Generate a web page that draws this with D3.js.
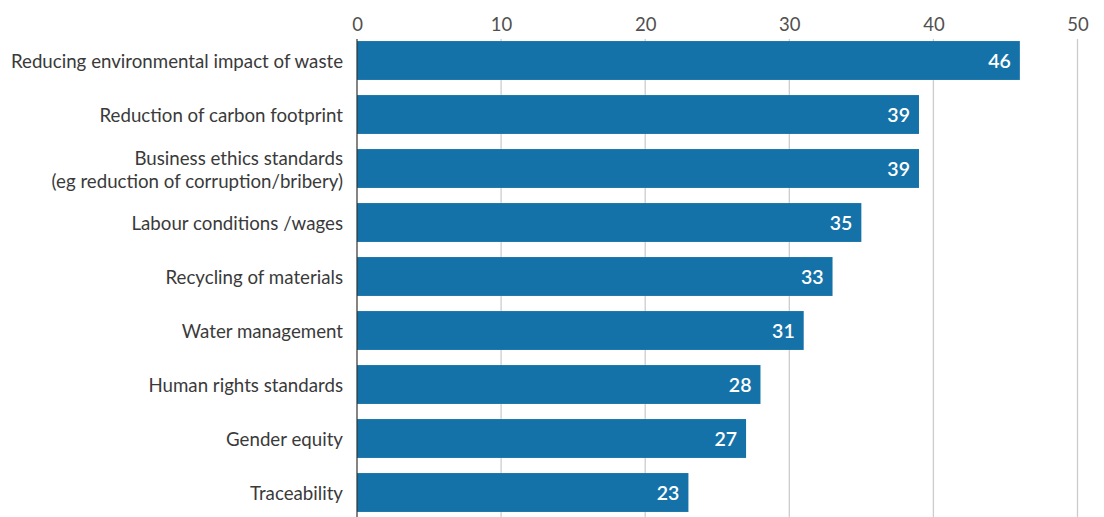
<!DOCTYPE html>
<html>
<head>
<meta charset="utf-8">
<script src="https://cdn.jsdelivr.net/npm/d3@7"></script>
<style>
  body { margin: 0; background: #fff; }
  svg text { font-family: Lato, "Open Sans", sans-serif; }
</style>
</head>
<body>
<div id="chart"></div>
<script>
// survey categories, top to bottom
let categories = [
    ["Reducing environmental impact of waste"],
    ["Reduction of carbon footprint"],
    ["Business ethics standards", "(eg reduction of corruption/bribery)"],
    ["Labour conditions /wages"],
    ["Recycling of materials"],
    ["Water management"],
    ["Human rights standards"],
    ["Gender equity"],
    ["Traceability"]
];
let values = [46, 39, 39, 35, 33, 31, 28, 27, 23];
let tickValues = [0, 10, 20, 30, 40, 50];

let width = 1104;
let height = 517;
let margin = {top: 39, left: 357, right: 26};

let svg = d3.select("#chart")
    .append("svg")
        .attr("width", width)
        .attr("height", height);

let data = categories.map(function(c, i){
    return {label: c, key: c.join(" "), value: values[i]};
});

let xScale = d3.scaleLinear()
    .domain([0, 50])
    .range([margin.left, margin.left + 720.5]);

let yScale = d3.scaleBand()
    .domain(data.map(function(d){ return d.key; }))
    .range([33.5, 33.5 + 486])
    .paddingInner(0.28)
    .paddingOuter(0.14);

// gridlines
svg.append("g")
    .selectAll("line")
    .data(tickValues.slice(1))
    .enter()
    .append("line")
        .attr("x1", function(d){ return xScale(d); })
        .attr("x2", function(d){ return xScale(d); })
        .attr("y1", margin.top)
        .attr("y2", height)
        .attr("stroke", "#cccccc")
        .attr("stroke-width", 1.3);

// top axis labels
let xAxis = svg.append("g")
    .attr("transform", "translate(0,31)")
    .call(d3.axisTop(xScale).tickValues(tickValues).tickSize(0).tickPadding(0));
xAxis.select(".domain").remove();
xAxis.selectAll("text")
    .style("font-family", "Lato, sans-serif")
    .style("font-size", "18.5px")
    .attr("fill", "#505050");

// bars
svg.selectAll(".bar")
    .data(data)
    .enter()
    .append("rect")
        .attr("class", "bar")
        .attr("x", xScale(0))
        .attr("y", function(d){ return yScale(d.key); })
        .attr("width", function(d){ return xScale(d.value) - xScale(0); })
        .attr("height", yScale.bandwidth())
        .attr("fill", "#1572a8");

// zero line
svg.append("line")
    .attr("x1", xScale(0))
    .attr("x2", xScale(0))
    .attr("y1", margin.top)
    .attr("y2", height)
    .attr("stroke", "#333")
    .attr("stroke-width", 1.2);

// value labels
svg.selectAll(".value")
    .data(data)
    .enter()
    .append("text")
        .attr("class", "value")
        .attr("x", function(d){ return xScale(d.value) - 9; })
        .attr("y", function(d){ return yScale(d.key) + yScale.bandwidth()/2; })
        .attr("dy", "0.36em")
        .attr("text-anchor", "end")
        .attr("fill", "#fff")
        .style("font-size", "19.5px")
        .style("font-weight", "600")
        .text(function(d){ return d.value; });

// category labels
let labels = svg.selectAll(".cat")
    .data(data)
    .enter()
    .append("text")
        .attr("class", "cat")
        .attr("text-anchor", "end")
        .attr("fill", "#3a3a3a")
        .style("font-size", "18.7px")
        .attr("transform", function(d){
            return "translate(343," + (yScale(d.key) + yScale.bandwidth()/2 + 1) + ")";
        });

labels.selectAll("tspan")
    .data(function(d){ return d.label.map(function(t, i){ return {t: t, i: i, n: d.label.length}; }); })
    .enter()
    .append("tspan")
        .attr("x", 0)
        .attr("y", function(d){ return (d.i - (d.n - 1)/2) * 23; })
        .attr("dy", "0.35em")
        .text(function(d){ return d.t; });
</script>
</body>
</html>
